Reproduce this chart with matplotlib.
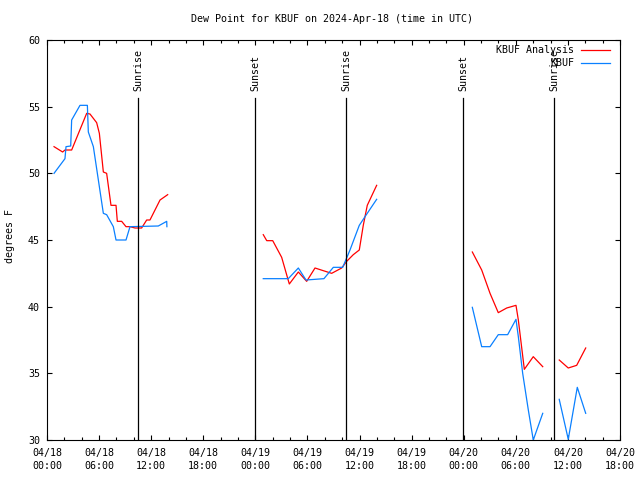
import matplotlib
matplotlib.use("Agg")
import matplotlib.pyplot as plt
import matplotlib.dates as mdates
import matplotlib.transforms as mtransforms
from matplotlib.lines import Line2D
import numpy as np
import pandas as pd

nan = np.nan
start = pd.Timestamp("2024-04-18 00:00")
end = pd.Timestamp("2024-04-20 18:00")

# hours after 04/18 00Z, nan breaks the line between chunks of data
analysis_hours = [0.81, 1.80, 2.07, 2.84, 4.57, 4.95, 5.72, 6.03, 6.49, 6.87, 7.37, 7.95,
                  8.10, 8.60, 9.10, 9.56, 10.14, 10.90, 11.48, 11.86, 13.02, 13.90, nan,
                  24.91, 25.31, 26.00, 27.03, 27.91, 28.95, 29.91, 30.87, 31.82, 32.79,
                  33.94, 34.52, 35.28, 35.97, 36.43, 36.89, 37.97, nan,
                  48.99, 50.07, 51.03, 51.98, 52.95, 54.02, 54.29, 54.98, 56.01, 57.10, nan,
                  59.00, 60.04, 61.01, 62.05]
analysis_dewpt = [52.0, 51.6, 51.75, 51.75, 54.5, 54.45, 53.8, 53.0, 50.1, 50.0, 47.6, 47.6,
                  46.4, 46.4, 46.0, 46.0, 45.9, 45.9, 46.5, 46.5, 48.0, 48.4, nan,
                  45.4, 44.95, 44.95, 43.7, 41.7, 42.6, 41.9, 42.9, 42.7, 42.5,
                  42.9, 43.4, 43.9, 44.25, 46.1, 47.6, 49.1, nan,
                  44.1, 42.75, 41.0, 39.55, 39.9, 40.1, 39.0, 35.3, 36.25, 35.5, nan,
                  36.0, 35.4, 35.6, 36.9]

obs_hours = [0.81, 2.07, 2.19, 2.73, 2.84, 3.80, 4.65, 4.76, 5.34, 6.49, 6.87, 7.64,
             7.95, 9.10, 9.56, 12.82, 13.79, 13.81, nan,
             24.91, 27.79, 28.95, 29.83, 31.90, 32.98, 34.06, 34.90, 35.97, 36.63, 37.97, nan,
             48.99, 50.07, 51.03, 51.98, 53.06, 54.02, 54.29, 54.79, 55.44, 56.01, 57.10, nan,
             59.00, 60.04, 61.08, 62.05]
obs_dewpt = [50.0, 51.1, 52.0, 52.05, 54.0, 55.1, 55.1, 53.1, 52.0, 47.0, 46.9, 46.0,
             45.0, 45.0, 46.0, 46.05, 46.4, 46.0, nan,
             42.1, 42.1, 42.9, 42.0, 42.1, 42.95, 42.95, 44.25, 46.1, 46.75, 48.05, nan,
             39.95, 37.0, 37.0, 37.9, 37.9, 39.05, 37.75, 35.0, 32.25, 30.0, 32.0, nan,
             33.05, 30.05, 33.95, 32.0]

sun_times = ["2024-04-18 10:29", "2024-04-18 23:57", "2024-04-19 10:27",
             "2024-04-19 23:58", "2024-04-20 10:25"]
sun_names = ["Sunrise", "Sunset", "Sunrise", "Sunset", "Sunrise"]

series_names = ["KBUF Analysis", "KBUF"]
series_colors = ["#ff0000", "#0a80ff"]


def to_num(hours):
    # matplotlib date numbers (days), nan stays nan
    return mdates.date2num(start.to_pydatetime()) + np.array(hours) / 24.0


def main():
    plt.rcParams["font.family"] = "DejaVu Sans Mono"
    plt.rcParams["font.size"] = 7.2

    fig = plt.figure(figsize=(6.4, 4.8), dpi=100)
    ax = fig.add_axes([47 / 640, 40 / 480, 573 / 640, 400 / 480])
    ax.xaxis_date()

    ax.plot(to_num(analysis_hours), analysis_dewpt, color=series_colors[0], lw=0.9)
    ax.plot(to_num(obs_hours), obs_dewpt, color=series_colors[1], lw=0.9)

    trans = mtransforms.blended_transform_factory(ax.transData, ax.transAxes)
    for ts, name in zip(sun_times, sun_names):
        t = mdates.date2num(pd.Timestamp(ts).to_pydatetime())
        ax.axvline(t, ymin=0, ymax=0.855, color="black", lw=0.9)
        ax.text(t, 0.872, name, transform=trans, rotation=90,
                ha="center", va="bottom")

    # legend, gnuplot style (text right aligned, sample line after it)
    for k, (name, col) in enumerate(zip(series_names, series_colors)):
        yy = 0.975 - k * 0.0325
        ax.text(0.92, yy, name, transform=ax.transAxes, ha="right", va="center")
        ax.add_line(Line2D([0.932, 0.9825], [yy, yy], transform=ax.transAxes,
                           color=col, lw=0.9))

    ax.set_xlim(mdates.date2num(start.to_pydatetime()), mdates.date2num(end.to_pydatetime()))
    ax.set_ylim(30, 60)
    ax.set_yticks(np.arange(30, 61, 5))
    ax.xaxis.set_major_locator(mdates.HourLocator(byhour=[0, 6, 12, 18]))
    ax.xaxis.set_minor_locator(mdates.HourLocator(byhour=range(0, 24, 2)))
    ax.xaxis.set_major_formatter(mdates.DateFormatter("%m/%d\n%H:%M"))
    ax.tick_params(which="both", direction="in", top=True, right=True,
                   width=0.8, colors="black")
    ax.tick_params(which="major", length=3.5)
    ax.tick_params(which="minor", length=2)
    ax.tick_params(axis="x", pad=6)
    ax.tick_params(axis="y", pad=5)
    for lab in ax.get_xticklabels():
        lab.set_linespacing(1.3)
    for sp in ax.spines.values():
        sp.set_linewidth(0.8)

    fig.text(332 / 640, 1 - 19 / 480, "Dew Point for KBUF on 2024-Apr-18 (time in UTC)",
             ha="center", va="center")
    fig.text(10 / 640, 1 - 236 / 480, "degrees F", rotation=90,
             ha="center", va="center")

    fig.savefig("out.png", dpi=100)


if __name__ == "__main__":
    main()
